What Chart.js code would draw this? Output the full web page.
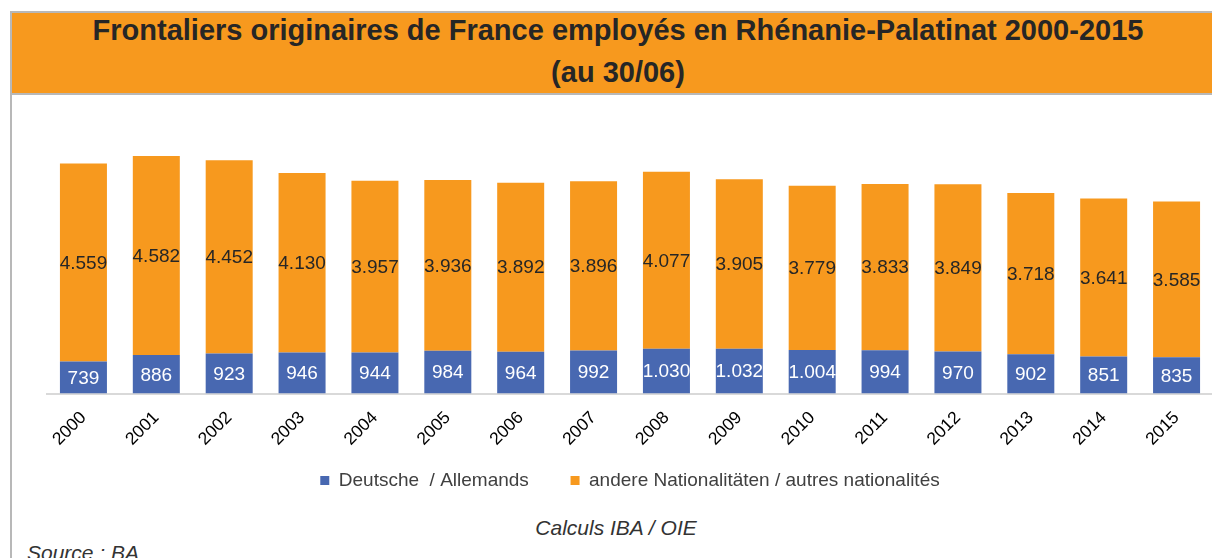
<!DOCTYPE html>
<html>
<head>
<meta charset="utf-8">
<script src="https://cdn.jsdelivr.net/npm/chart.js@4.4.1/dist/chart.umd.min.js"></script>
<style>
  html, body { margin: 0; padding: 0; width: 1212px; height: 558px; overflow: hidden; background: #fff; }
  body { position: relative; font-family: "Liberation Sans", Arial, sans-serif; }
  #frame { position: absolute; left: 10px; top: 11px; width: 1300px; height: 600px; border-left: 2px solid #b8b8b8; }
  #titleBox { position: absolute; left: 10px; top: 11px; width: 1212px; height: 80px; background: #f7991e;
              border: 2px solid #b8b8b8; border-right: none; }
  .tline { position: absolute; left: 0; width: 1212px; text-align: center; font-weight: bold; font-size: 29px; color: #262626; }
  #chartCanvas { position: absolute; left: 11px; top: 95px; }
  #calc { position: absolute; left: 0; width: 1232px; top: 516px; text-align: center; font-style: italic; font-size: 21px; color: #333; }
  #source { position: absolute; left: 27px; top: 541px; font-style: italic; font-size: 21px; color: #333; }
</style>
</head>
<body>
<div id="frame"></div>
<div id="titleBox">
  <div class="tline" style="top: 1px;">Frontaliers originaires de France employés en Rhénanie-Palatinat 2000-2015</div>
  <div class="tline" style="top: 43px;">(au 30/06)</div>
</div>
<canvas id="chartCanvas" width="1202" height="405"></canvas>
<div id="calc">Calculs IBA / OIE</div>
<div id="source">Source : BA</div>
<script>
const years = ['2000', '2001', '2002', '2003', '2004', '2005', '2006', '2007',
               '2008', '2009', '2010', '2011', '2012', '2013', '2014', '2015'];
const deutsche = [739, 886, 923, 946, 944, 984, 964, 992, 1030, 1032, 1004, 994, 970, 902, 851, 835];
const andere = [4559, 4582, 4452, 4130, 3957, 3936, 3892, 3896, 4077, 3905, 3779, 3833, 3849, 3718, 3641, 3585];

const FONT = '"Liberation Sans", Arial, sans-serif';

// 1.030 style thousands separator
function fmt(v) {
    if (v < 1000) return String(v);
    return Math.floor(v / 1000) + '.' + String(v % 1000).padStart(3, '0');
}

const valueLabels = {
    id: 'valueLabels',
    afterDatasetsDraw(chart) {
        const ctx = chart.ctx;
        ctx.save();
        ctx.font = '19px ' + FONT;
        ctx.textAlign = 'center';
        ctx.textBaseline = 'middle';
        chart.data.datasets.forEach((ds, i) => {
            const meta = chart.getDatasetMeta(i);
            ctx.fillStyle = i === 0 ? '#ffffff' : '#262626';
            meta.data.forEach((bar, j) => {
                ctx.fillText(fmt(ds.data[j]), bar.x, (bar.y + bar.base) / 2 + 1);
            });
        });
        ctx.restore();
    }
};

const ctx = document.getElementById('chartCanvas').getContext('2d');
const myChart = new Chart(ctx, {
    type: 'bar',
    data: {
        labels: years,
        datasets: [{
            label: 'Deutsche  / Allemands',
            data: deutsche,
            backgroundColor: '#4868b1',
            categoryPercentage: 1,
            barPercentage: 0.645
        }, {
            label: 'andere Nationalitäten / autres nationalités',
            data: andere,
            backgroundColor: '#f7991e',
            categoryPercentage: 1,
            barPercentage: 0.645
        }]
    },
    options: {
        responsive: false,
        animation: false,
        layout: { padding: { left: 36, top: 38, right: 0, bottom: 0 } },
        plugins: {
            legend: {
                position: 'bottom',
                labels: {
                    boxWidth: 9,
                    boxHeight: 9,
                    padding: 10,
                    color: '#404040',
                    font: { family: FONT, size: 19 },
                    generateLabels: (chart) => {
                        const items = Chart.defaults.plugins.legend.labels.generateLabels(chart);
                        // wider gap between the two entries
                        items[0].text = items[0].text + '      ';
                        return items;
                    }
                }
            },
            tooltip: { enabled: false }
        },
        scales: {
            x: {
                stacked: true,
                grid: { display: false, drawTicks: false },
                border: { display: true, color: '#d9d9d9', width: 2 },
                ticks: {
                    minRotation: 45,
                    maxRotation: 45,
                    padding: 14,
                    color: '#000000',
                    font: { family: FONT, size: 17.5 }
                },
                afterFit: (scale) => { scale.height = 67.5; }
            },
            y: {
                stacked: true,
                display: false,
                min: 0,
                max: 6000
            }
        }
    },
    plugins: [valueLabels]
});
</script>
</body>
</html>
